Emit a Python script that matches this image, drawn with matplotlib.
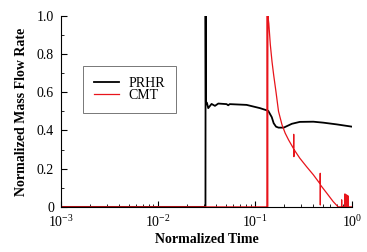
import numpy as np
import matplotlib.pyplot as plt
from matplotlib.ticker import MultipleLocator, LogLocator, NullFormatter

plt.rcParams['font.family'] = ['Liberation Serif', 'DejaVu Serif']
plt.rcParams['mathtext.fontset'] = 'stix'

# PRHR (black)
t_prhr = [0.001, 0.0309, 0.0310, 0.0312, 0.0320, 0.0330, 0.0357, 0.0387, 0.0419,
          0.051, 0.053, 0.055, 0.082, 0.1127, 0.137, 0.149, 0.156, 0.165, 0.175,
          0.198, 0.24, 0.29, 0.40, 0.506, 0.695, 1.0]
q_prhr = [0.0, 0.0, 1.0, 0.55, 0.545, 0.517, 0.539, 0.529, 0.541,
          0.538, 0.532, 0.538, 0.534, 0.517, 0.503, 0.47, 0.438, 0.42, 0.415,
          0.415, 0.435, 0.445, 0.446, 0.441, 0.432, 0.42]

# CMT (red)
t_cmt = [0.001, 0.1330, 0.1340, 0.1350, 0.1360, 0.139, 0.144, 0.150, 0.156, 0.165,
         0.175, 0.190, 0.205, 0.222, 0.250, 0.251, 0.252, 0.253, 0.29, 0.34,
         0.40, 0.470, 0.471, 0.472, 0.473, 0.55, 0.64, 0.72,
         0.782, 0.783, 0.784, 0.846, 0.847, 0.848, 0.880, 0.881, 0.882,
         0.908, 0.909, 0.910, 1.0]
q_cmt = [0.0, 0.0, 1.0, 0.0, 1.0, 0.96, 0.85, 0.76, 0.69, 0.60,
         0.50, 0.43, 0.386, 0.351, 0.305, 0.38, 0.263, 0.30, 0.255, 0.211,
         0.168, 0.12, 0.176, 0.01, 0.115, 0.072, 0.028, 0.0,
         0.0, 0.037, 0.0, 0.0, 0.068, 0.0, 0.0, 0.063, 0.0,
         0.0, 0.058, 0.0, 0.0]

fig = plt.figure(figsize=(3.67, 2.52), dpi=100)
ax = fig.add_axes([0.166, 0.179, 0.793, 0.758])

ax.semilogx(t_prhr, q_prhr, color='black', lw=1.3, label='PRHR')
ax.semilogx(t_cmt, q_cmt, color='#e8141b', lw=0.9, label='CMT')

ax.set_xlim(1e-3, 1.0)
ax.set_ylim(0, 1.0)
ax.spines['top'].set_visible(False)
ax.spines['right'].set_visible(False)
ax.spines['left'].set_linewidth(0.8)
ax.spines['bottom'].set_linewidth(0.8)

ax.xaxis.set_major_locator(LogLocator(base=10, numticks=10))
ax.xaxis.set_minor_locator(LogLocator(base=10, subs=np.arange(2, 10), numticks=10))
ax.xaxis.set_minor_formatter(NullFormatter())
ax.yaxis.set_minor_locator(MultipleLocator(0.1))
ax.set_yticks([0, 0.2, 0.4, 0.6, 0.8, 1.0])
ax.set_yticklabels(['0', '0.2', '0.4', '0.6', '0.8', '1.0'])
ax.tick_params(which='both', direction='in', top=False, right=False, labelsize=10)
ax.tick_params(axis='x', pad=5)
ax.tick_params(axis='y', pad=5)
ax.tick_params(which='major', length=4)
ax.tick_params(which='minor', length=2.5)

ax.set_xlabel('Normalized Time', fontsize=10, fontweight='bold', labelpad=2)
ax.set_ylabel('Normalized Mass Flow Rate', fontsize=10, fontweight='bold', labelpad=6)

leg = ax.legend(loc='upper left', bbox_to_anchor=(0.076, 0.738), borderaxespad=0,
                prop={'size': 10}, frameon=True, fancybox=False, edgecolor='#555555',
                handlelength=1.8, handletextpad=0.65, labelspacing=-0.1,
                borderpad=0.8)
leg.get_frame().set_linewidth(0.7)

fig.savefig('out.png', dpi=100)
